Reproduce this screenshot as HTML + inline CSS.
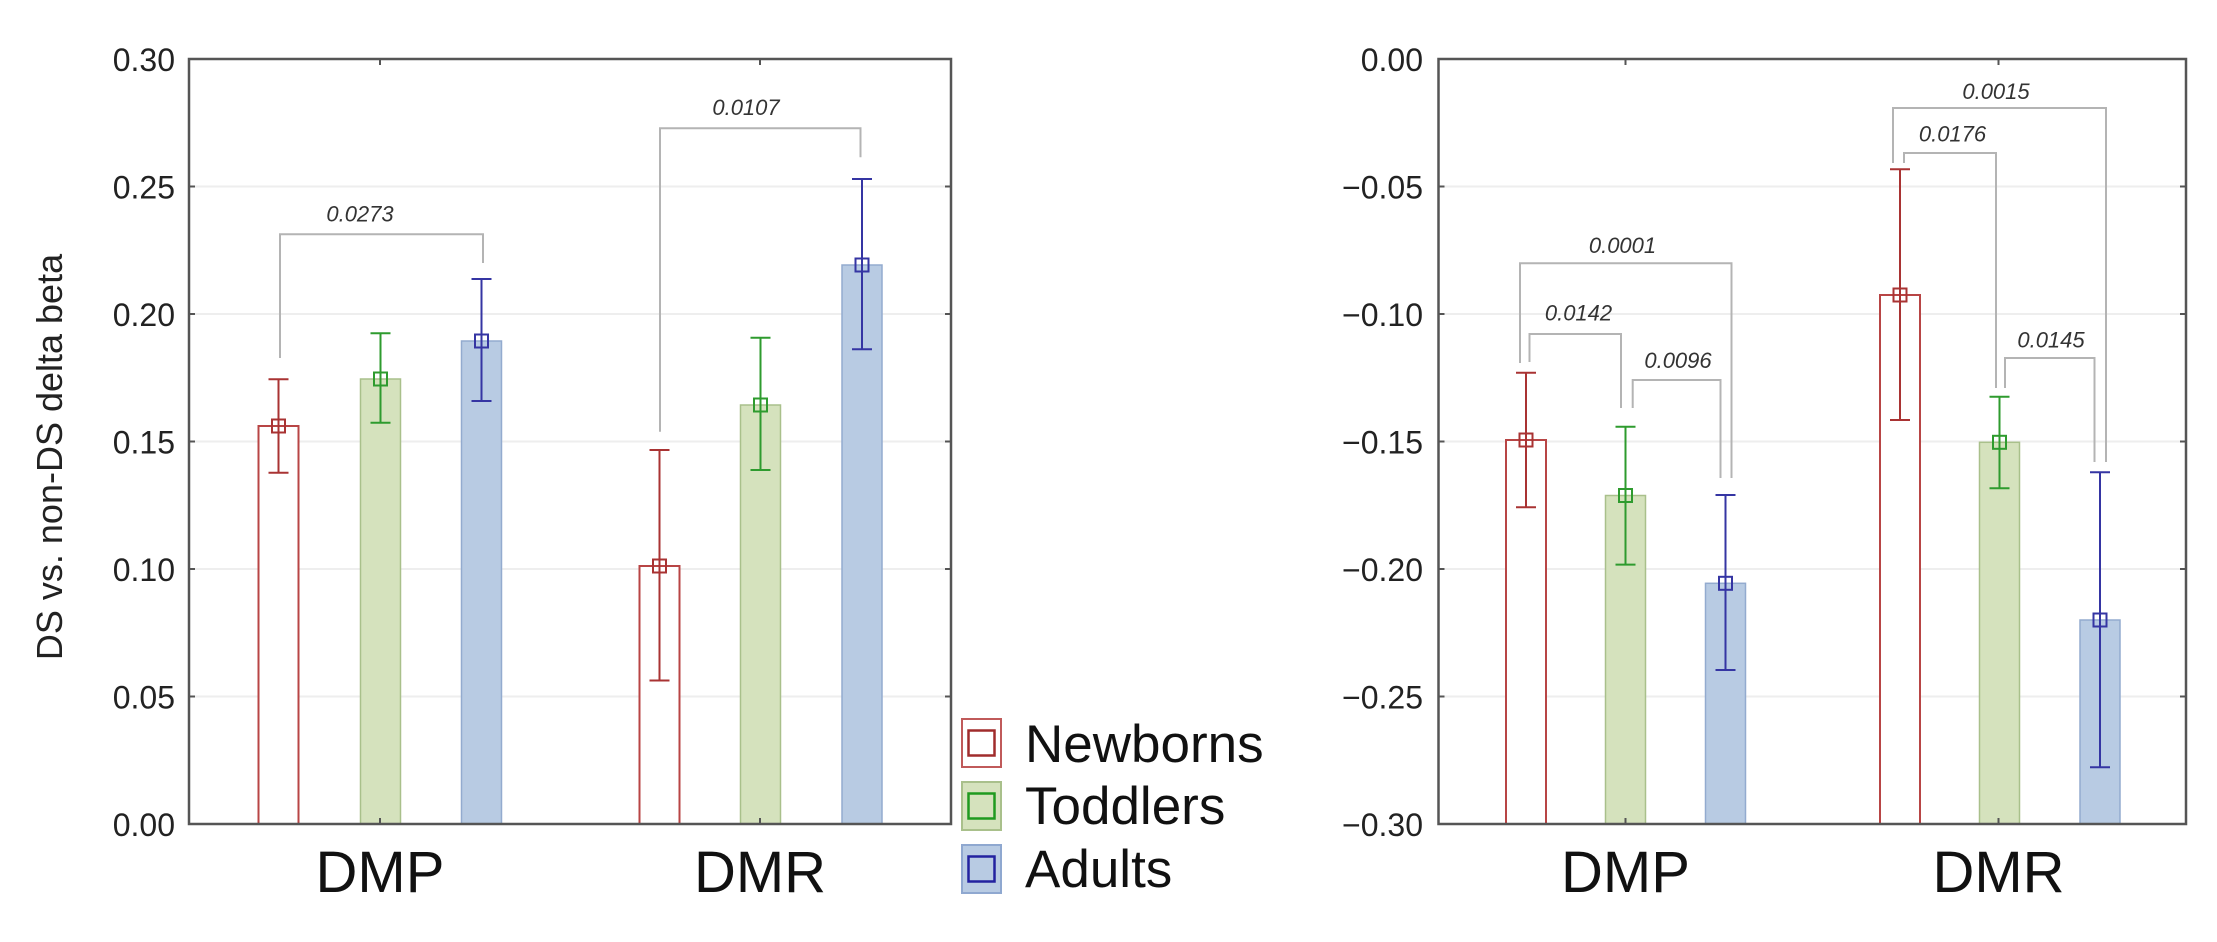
<!DOCTYPE html>
<html>
<head>
<meta charset="utf-8">
<style>
  html,body{margin:0;padding:0;background:#fff;}
  svg{display:block;}
  text{font-family:"Liberation Sans", Arial, sans-serif;}
</style>
</head>
<body>
<svg width="2217" height="942" viewBox="0 0 2217 942" xmlns="http://www.w3.org/2000/svg">
  <rect x="0" y="0" width="2217" height="942" fill="#fff"/>

  <!-- ================= LEFT PLOT ================= -->
  <g stroke="#eeeeee" stroke-width="2">
    <line x1="189" y1="186.5" x2="951" y2="186.5"/>
    <line x1="189" y1="314" x2="951" y2="314"/>
    <line x1="189" y1="441.5" x2="951" y2="441.5"/>
    <line x1="189" y1="569" x2="951" y2="569"/>
    <line x1="189" y1="696.5" x2="951" y2="696.5"/>
  </g>

  <!-- bars left -->
  <rect x="258.5" y="426" width="40" height="398" fill="#fff" stroke="#b84545" stroke-width="2"/>
  <rect x="360.5" y="379" width="40" height="445" fill="#d5e2bd" stroke="#a9c08b" stroke-width="1.5"/>
  <rect x="461.5" y="341" width="40" height="483" fill="#b8cbe3" stroke="#93abcf" stroke-width="1.5"/>
  <rect x="639.5" y="566" width="40" height="258" fill="#fff" stroke="#b84545" stroke-width="2"/>
  <rect x="740.5" y="405" width="40" height="419" fill="#d5e2bd" stroke="#a9c08b" stroke-width="1.5"/>
  <rect x="842" y="265" width="40" height="559" fill="#b8cbe3" stroke="#93abcf" stroke-width="1.5"/>

  <!-- error bars left -->
  <g fill="none" stroke-width="2">
    <g stroke="#a93333">
      <path d="M278.5,379.3 V472.7 M268.5,379.3 H288.5 M268.5,472.7 H288.5"/>
      <rect x="272" y="419.5" width="13" height="13"/>
      <path d="M659.5,450 V680.5 M649.5,450 H669.5 M649.5,680.5 H669.5"/>
      <rect x="653" y="559.5" width="13" height="13"/>
    </g>
    <g stroke="#2e9b2e">
      <path d="M380.5,333.3 V422.7 M370.5,333.3 H390.5 M370.5,422.7 H390.5"/>
      <rect x="374" y="372.5" width="13" height="13"/>
      <path d="M760.5,337.7 V470 M750.5,337.7 H770.5 M750.5,470 H770.5"/>
      <rect x="754" y="398.5" width="13" height="13"/>
    </g>
    <g stroke="#3535a3">
      <path d="M481.5,279 V401 M471.5,279 H491.5 M471.5,401 H491.5"/>
      <rect x="475" y="334.5" width="13" height="13"/>
      <path d="M862,179 V349.3 M852,179 H872 M852,349.3 H872"/>
      <rect x="855.5" y="258.5" width="13" height="13"/>
    </g>
  </g>

  <!-- brackets left -->
  <g fill="none" stroke="#b4b4b4" stroke-width="2">
    <path d="M280,358 V234.3 H483 V263"/>
    <path d="M660,431.7 V128.3 H860.5 V157.3"/>
  </g>
  <g font-size="22" font-style="italic" fill="#333" text-anchor="middle">
    <text x="360" y="221.7">0.0273</text>
    <text x="746" y="115">0.0107</text>
  </g>

  <!-- frame left -->
  <rect x="189" y="59" width="762" height="765" fill="none" stroke="#555" stroke-width="2.5"/>
  <g stroke="#555" stroke-width="2">
    <line x1="189" y1="186.5" x2="195" y2="186.5"/>
    <line x1="189" y1="314" x2="195" y2="314"/>
    <line x1="189" y1="441.5" x2="195" y2="441.5"/>
    <line x1="189" y1="569" x2="195" y2="569"/>
    <line x1="189" y1="696.5" x2="195" y2="696.5"/>
    <line x1="951" y1="186.5" x2="945" y2="186.5"/>
    <line x1="951" y1="314" x2="945" y2="314"/>
    <line x1="951" y1="441.5" x2="945" y2="441.5"/>
    <line x1="951" y1="569" x2="945" y2="569"/>
    <line x1="951" y1="696.5" x2="945" y2="696.5"/>
    <line x1="380" y1="59" x2="380" y2="65"/>
    <line x1="760" y1="59" x2="760" y2="65"/>
    <line x1="380" y1="824" x2="380" y2="818"/>
    <line x1="760" y1="824" x2="760" y2="818"/>
  </g>

  <!-- y tick labels left -->
  <g font-size="32" fill="#222" text-anchor="end">
    <text x="175" y="71">0.30</text>
    <text x="175" y="198.5">0.25</text>
    <text x="175" y="326">0.20</text>
    <text x="175" y="453.5">0.15</text>
    <text x="175" y="581">0.10</text>
    <text x="175" y="708.5">0.05</text>
    <text x="175" y="836">0.00</text>
  </g>
  <text x="62" y="457" font-size="36" fill="#222" text-anchor="middle" transform="rotate(-90 62 457)">DS vs. non-DS delta beta</text>

  <g font-size="58" fill="#111" text-anchor="middle">
    <text x="380" y="892">DMP</text>
    <text x="760" y="892">DMR</text>
    <text x="1625.5" y="892">DMP</text>
    <text x="1998.5" y="892">DMR</text>
  </g>

  <!-- legend -->
  <rect x="962" y="719" width="39" height="48" fill="#fff" stroke="#c05a5a" stroke-width="2"/>
  <rect x="968.5" y="730.5" width="26" height="25" fill="none" stroke="#a02c2c" stroke-width="2.5"/>
  <rect x="962" y="782" width="39" height="48" fill="#d5e2bd" stroke="#a9c08b" stroke-width="2"/>
  <rect x="968.5" y="793.5" width="26" height="25" fill="none" stroke="#1f9a1f" stroke-width="2.5"/>
  <rect x="962" y="845" width="39" height="48" fill="#b8cbe3" stroke="#8fa8d0" stroke-width="2"/>
  <rect x="968.5" y="856.5" width="26" height="25" fill="none" stroke="#2222a0" stroke-width="2.5"/>
  <g font-size="53" fill="#111">
    <text x="1025" y="762">Newborns</text>
    <text x="1025" y="824">Toddlers</text>
    <text x="1025" y="887">Adults</text>
  </g>

  <!-- ================= RIGHT PLOT ================= -->
  <g stroke="#eeeeee" stroke-width="2">
    <line x1="1438.5" y1="186.5" x2="2186" y2="186.5"/>
    <line x1="1438.5" y1="314" x2="2186" y2="314"/>
    <line x1="1438.5" y1="441.5" x2="2186" y2="441.5"/>
    <line x1="1438.5" y1="569" x2="2186" y2="569"/>
    <line x1="1438.5" y1="696.5" x2="2186" y2="696.5"/>
  </g>

  <rect x="1506" y="440" width="40" height="384" fill="#fff" stroke="#b84545" stroke-width="2"/>
  <rect x="1605.5" y="495.5" width="40" height="328.5" fill="#d5e2bd" stroke="#a9c08b" stroke-width="1.5"/>
  <rect x="1705.5" y="583.3" width="40" height="240.7" fill="#b8cbe3" stroke="#93abcf" stroke-width="1.5"/>
  <rect x="1880" y="295" width="40" height="529" fill="#fff" stroke="#b84545" stroke-width="2"/>
  <rect x="1979.5" y="442.3" width="40" height="381.7" fill="#d5e2bd" stroke="#a9c08b" stroke-width="1.5"/>
  <rect x="2080" y="620" width="40" height="204" fill="#b8cbe3" stroke="#93abcf" stroke-width="1.5"/>

  <g fill="none" stroke-width="2">
    <g stroke="#a93333">
      <path d="M1526,372.7 V507.3 M1516,372.7 H1536 M1516,507.3 H1536"/>
      <rect x="1519.5" y="433.5" width="13" height="13"/>
      <path d="M1900,169.3 V420 M1890,169.3 H1910 M1890,420 H1910"/>
      <rect x="1893.5" y="288.5" width="13" height="13"/>
    </g>
    <g stroke="#2e9b2e">
      <path d="M1625.5,426.7 V564.6 M1615.5,426.7 H1635.5 M1615.5,564.6 H1635.5"/>
      <rect x="1619" y="489" width="13" height="13"/>
      <path d="M1999.5,396.7 V488.3 M1989.5,396.7 H2009.5 M1989.5,488.3 H2009.5"/>
      <rect x="1993" y="435.8" width="13" height="13"/>
    </g>
    <g stroke="#3535a3">
      <path d="M1725.5,495 V670 M1715.5,495 H1735.5 M1715.5,670 H1735.5"/>
      <rect x="1719" y="576.8" width="13" height="13"/>
      <path d="M2100,472.3 V767.3 M2090,472.3 H2110 M2090,767.3 H2110"/>
      <rect x="2093.5" y="613.5" width="13" height="13"/>
    </g>
  </g>

  <g fill="none" stroke="#b4b4b4" stroke-width="2">
    <path d="M1520,363 V263.3 H1731.5 V478"/>
    <path d="M1529.5,362 V334 H1621 V408"/>
    <path d="M1632.7,408 V380 H1720.5 V478"/>
    <path d="M1893,163 V108 H2106 V462"/>
    <path d="M1904,163 V153 H1996 V388"/>
    <path d="M2005,388 V358 H2094.5 V462"/>
  </g>
  <g font-size="22" font-style="italic" fill="#333" text-anchor="middle">
    <text x="1622.5" y="253">0.0001</text>
    <text x="1578.5" y="320.7">0.0142</text>
    <text x="1678" y="368">0.0096</text>
    <text x="1996" y="99">0.0015</text>
    <text x="1952.5" y="141.7">0.0176</text>
    <text x="2051" y="347.7">0.0145</text>
  </g>

  <rect x="1438.5" y="59" width="747.5" height="765" fill="none" stroke="#555" stroke-width="2.5"/>
  <g stroke="#555" stroke-width="2">
    <line x1="1438.5" y1="186.5" x2="1444.5" y2="186.5"/>
    <line x1="1438.5" y1="314" x2="1444.5" y2="314"/>
    <line x1="1438.5" y1="441.5" x2="1444.5" y2="441.5"/>
    <line x1="1438.5" y1="569" x2="1444.5" y2="569"/>
    <line x1="1438.5" y1="696.5" x2="1444.5" y2="696.5"/>
    <line x1="2186" y1="186.5" x2="2180" y2="186.5"/>
    <line x1="2186" y1="314" x2="2180" y2="314"/>
    <line x1="2186" y1="441.5" x2="2180" y2="441.5"/>
    <line x1="2186" y1="569" x2="2180" y2="569"/>
    <line x1="2186" y1="696.5" x2="2180" y2="696.5"/>
    <line x1="1625.5" y1="59" x2="1625.5" y2="65"/>
    <line x1="1998.5" y1="59" x2="1998.5" y2="65"/>
    <line x1="1625.5" y1="824" x2="1625.5" y2="818"/>
    <line x1="1998.5" y1="824" x2="1998.5" y2="818"/>
  </g>

  <g font-size="32" fill="#222" text-anchor="end">
    <text x="1423" y="71">0.00</text>
    <text x="1423" y="198.5">−0.05</text>
    <text x="1423" y="326">−0.10</text>
    <text x="1423" y="453.5">−0.15</text>
    <text x="1423" y="581">−0.20</text>
    <text x="1423" y="708.5">−0.25</text>
    <text x="1423" y="836">−0.30</text>
  </g>
</svg>
</body>
</html>
